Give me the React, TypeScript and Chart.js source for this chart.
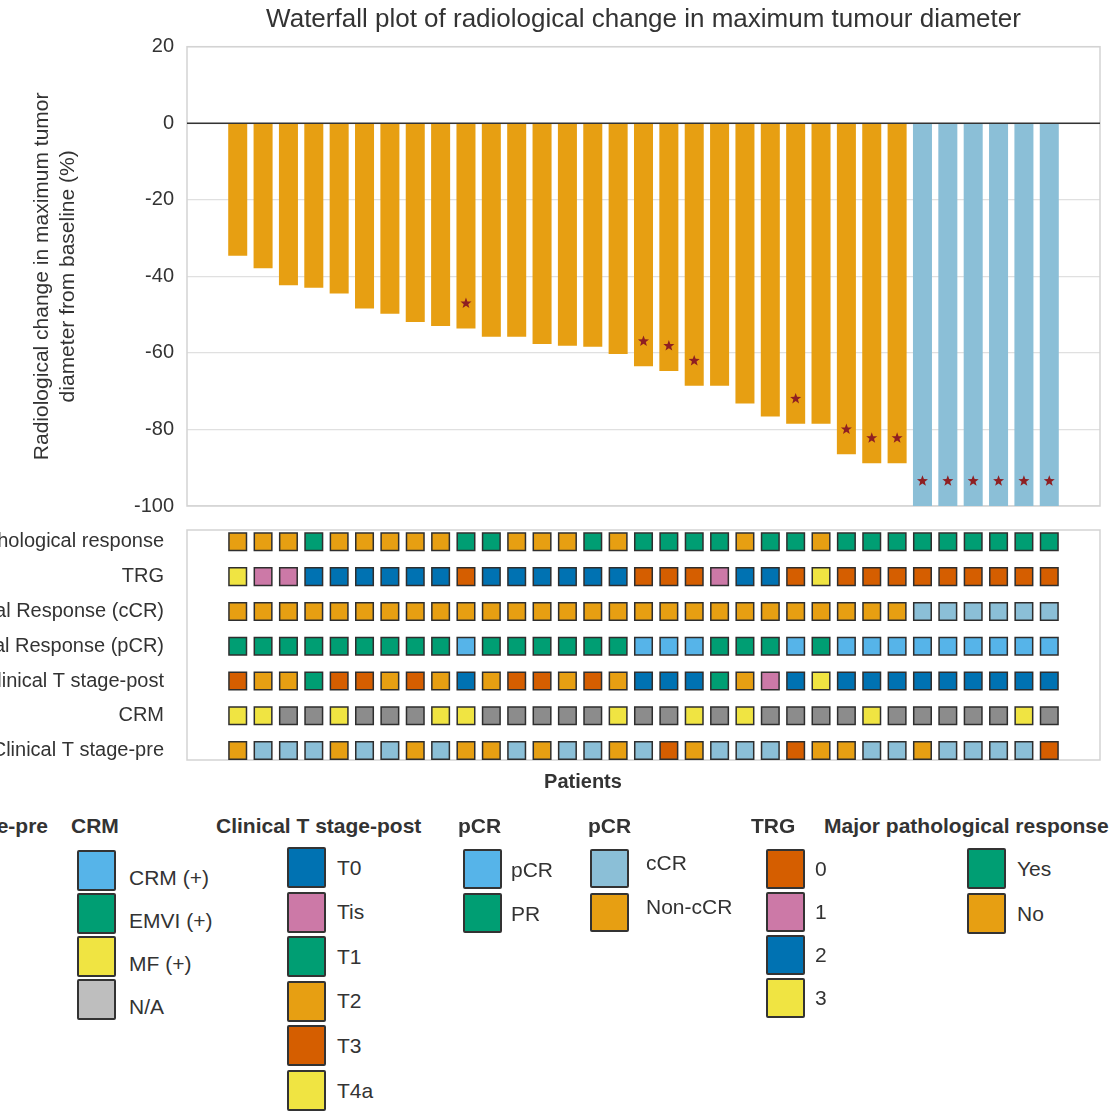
import React, { useEffect, useRef } from 'react';
import { Chart, registerables } from 'chart.js';

Chart.register(...registerables);

const FONT = '"Liberation Sans", Arial, Helvetica, sans-serif';
const INK = '#333333';

Chart.defaults.font.family = FONT;
Chart.defaults.color = INK;

// ---- data (one entry per patient, ordered as on the x axis) ----
const changeFromBaseline = [
  -34.6, -37.9, -42.3, -43.0, -44.5, -48.4, -49.8, -51.9, -53.0, -53.6,
  -55.8, -55.8, -57.7, -58.1, -58.4, -60.3, -63.5, -64.7, -68.6, -68.6,
  -73.2, -76.6, -78.5, -78.5, -86.5, -88.8, -88.8, -100, -100, -100,
  -100, -100, -100,
];

const majorResponse = [
  'No', 'No', 'No', 'Yes', 'No', 'No', 'No', 'No', 'No', 'Yes',
  'Yes', 'No', 'No', 'No', 'Yes', 'No', 'Yes', 'Yes', 'Yes', 'Yes',
  'No', 'Yes', 'Yes', 'No', 'Yes', 'Yes', 'Yes', 'Yes', 'Yes', 'Yes',
  'Yes', 'Yes', 'Yes',
];

const trg = [
  '3', '1', '1', '2', '2', '2', '2', '2', '2', '0',
  '2', '2', '2', '2', '2', '2', '0', '0', '0', '1',
  '2', '2', '0', '3', '0', '0', '0', '0', '0', '0',
  '0', '0', '0',
];

const ccr = [
  'Non-cCR', 'Non-cCR', 'Non-cCR', 'Non-cCR', 'Non-cCR', 'Non-cCR', 'Non-cCR', 'Non-cCR', 'Non-cCR', 'Non-cCR',
  'Non-cCR', 'Non-cCR', 'Non-cCR', 'Non-cCR', 'Non-cCR', 'Non-cCR', 'Non-cCR', 'Non-cCR', 'Non-cCR', 'Non-cCR',
  'Non-cCR', 'Non-cCR', 'Non-cCR', 'Non-cCR', 'Non-cCR', 'Non-cCR', 'Non-cCR', 'cCR', 'cCR', 'cCR',
  'cCR', 'cCR', 'cCR',
];

const pcr = [
  'PR', 'PR', 'PR', 'PR', 'PR', 'PR', 'PR', 'PR', 'PR', 'pCR',
  'PR', 'PR', 'PR', 'PR', 'PR', 'PR', 'pCR', 'pCR', 'pCR', 'PR',
  'PR', 'PR', 'pCR', 'PR', 'pCR', 'pCR', 'pCR', 'pCR', 'pCR', 'pCR',
  'pCR', 'pCR', 'pCR',
];

const tStagePost = [
  'T3', 'T2', 'T2', 'T1', 'T3', 'T3', 'T2', 'T3', 'T2', 'T0',
  'T2', 'T3', 'T3', 'T2', 'T3', 'T2', 'T0', 'T0', 'T0', 'T1',
  'T2', 'Tis', 'T0', 'T4a', 'T0', 'T0', 'T0', 'T0', 'T0', 'T0',
  'T0', 'T0', 'T0',
];

const crm = [
  'MF (+)', 'MF (+)', 'N/A', 'N/A', 'MF (+)', 'N/A', 'N/A', 'N/A', 'MF (+)', 'MF (+)',
  'N/A', 'N/A', 'N/A', 'N/A', 'N/A', 'MF (+)', 'N/A', 'N/A', 'MF (+)', 'N/A',
  'MF (+)', 'N/A', 'N/A', 'N/A', 'N/A', 'MF (+)', 'N/A', 'N/A', 'N/A', 'N/A',
  'N/A', 'MF (+)', 'N/A',
];

const tStagePre = [
  'T2', 'T3', 'T3', 'T3', 'T2', 'T3', 'T3', 'T2', 'T3', 'T2',
  'T2', 'T3', 'T2', 'T3', 'T3', 'T2', 'T3', 'T4', 'T2', 'T3',
  'T3', 'T3', 'T4', 'T2', 'T2', 'T3', 'T3', 'T2', 'T3', 'T3',
  'T3', 'T3', 'T4',
];

const yTicks = { min: -100, max: 20, step: 20 };

// ---- colours ----
const ORANGE = '#E79F12';
const GREEN = '#009E73';
const BLUE = '#0072B2';
const VERMILION = '#D55E00';
const PINK = '#CC79A7';
const YELLOW = '#F0E442';
const SKY = '#56B4E9';
const PALE_BLUE = '#8BBFD7';

const majorColours: Record<string, string> = { Yes: GREEN, No: ORANGE };
const trgColours: Record<string, string> = { '0': VERMILION, '1': PINK, '2': BLUE, '3': YELLOW };
const ccrColours: Record<string, string> = { cCR: PALE_BLUE, 'Non-cCR': ORANGE };
const pcrColours: Record<string, string> = { pCR: SKY, PR: GREEN };
const tPostColours: Record<string, string> = { T0: BLUE, Tis: PINK, T1: GREEN, T2: ORANGE, T3: VERMILION, T4a: YELLOW };
const crmLegendColours: Record<string, string> = { 'CRM (+)': SKY, 'EMVI (+)': GREEN, 'MF (+)': YELLOW, 'N/A': '#BEBEBE' };
const crmCellColours: Record<string, string> = { ...crmLegendColours, 'N/A': '#8C8C8C' };
const tPreColours: Record<string, string> = { T2: ORANGE, T3: PALE_BLUE, T4: VERMILION };

const heatRows = [
  { label: 'Major pathological response', values: majorResponse, colours: majorColours },
  { label: 'TRG', values: trg, colours: trgColours },
  { label: 'Complete Clinical Response (cCR)', values: ccr, colours: ccrColours },
  { label: 'Complete Pathological Response (pCR)', values: pcr, colours: pcrColours },
  { label: 'Clinical T stage-post', values: tStagePost, colours: tPostColours },
  { label: 'CRM', values: crm, colours: crmCellColours },
  { label: 'Clinical T stage-pre', values: tStagePre, colours: tPreColours },
];

// ---- legend layout ----
const legendGroups = [
  { title: 'Clinical T stage-pre', titleRight: 48, colours: {} as Record<string, string> },
  { title: 'CRM', titleLeft: 71, swatchLeft: 77, top: 850, step: 43, h: 41, labelLeft: 129, shift: 7, colours: crmLegendColours },
  { title: 'Clinical T stage-post', titleLeft: 216, swatchLeft: 287, top: 847, step: 44.6, h: 41, labelLeft: 337, shift: 0, colours: tPostColours },
  { title: 'pCR', titleLeft: 458, swatchLeft: 463, top: 849, step: 44, h: 40, labelLeft: 511, shift: 1, colours: pcrColours },
  { title: 'pCR', titleLeft: 588, swatchLeft: 590, top: 849, step: 44, h: 39, labelLeft: 646, shift: -6, colours: ccrColours },
  { title: 'TRG', titleLeft: 751, swatchLeft: 766, top: 849, step: 43, h: 40, labelLeft: 815, shift: 0, colours: trgColours },
  { title: 'Major pathological response', titleLeft: 824, swatchLeft: 967, top: 848, step: 45, h: 41, labelLeft: 1017, shift: 0, colours: majorColours },
];

const X_MIN = -2;
const X_MAX = 34;
const AXIS_WIDTH = 187;

// light box round the plot area, plus the dark zero line on top of the bars
const framePlugin = {
  id: 'frame',
  beforeDatasetsDraw(chart: any) {
    const { ctx, chartArea: a } = chart;
    ctx.save();
    ctx.strokeStyle = '#D3D3D3';
    ctx.lineWidth = 1.5;
    ctx.strokeRect(a.left, a.top, a.right - a.left, a.bottom - a.top);
    ctx.restore();
  },
  afterDatasetsDraw(chart: any, _args: any, opts: any) {
    if (!opts || !opts.zeroLine) return;
    const { ctx, chartArea: a } = chart;
    const y = chart.scales.y.getPixelForValue(0);
    ctx.save();
    ctx.strokeStyle = INK;
    ctx.lineWidth = 1.5;
    ctx.beginPath();
    ctx.moveTo(a.left, y);
    ctx.lineTo(a.right, y);
    ctx.stroke();
    ctx.restore();
  },
};

function drawStar(ctx: CanvasRenderingContext2D, cx: number, cy: number, outer: number, inner: number) {
  ctx.beginPath();
  for (let k = 0; k < 10; k++) {
    const r = k % 2 === 0 ? outer : inner;
    const ang = -Math.PI / 2 + (k * Math.PI) / 5;
    const px = cx + r * Math.cos(ang);
    const py = cy + r * Math.sin(ang);
    if (k === 0) ctx.moveTo(px, py);
    else ctx.lineTo(px, py);
  }
  ctx.closePath();
  ctx.fill();
}

// star near the end of every bar whose patient reached pCR
const starPlugin = {
  id: 'pcrStars',
  afterDatasetsDraw(chart: any) {
    const meta = chart.getDatasetMeta(0);
    const ctx = chart.ctx;
    ctx.save();
    ctx.fillStyle = '#8E1F22';
    pcr.forEach((v, i) => {
      if (v !== 'pCR') return;
      const bar = meta.data[i];
      drawStar(ctx, bar.x, bar.y - 25, 5.8, 2.4);
    });
    ctx.restore();
  },
};

const WaterfallChart: React.FC = () => {
  const canvasRef = useRef<HTMLCanvasElement | null>(null);

  useEffect(() => {
    if (!canvasRef.current) return;

    const chart = new Chart(canvasRef.current, {
      type: 'bar',
      data: {
        datasets: [
          {
            data: changeFromBaseline.map((v, i) => ({ x: i, y: v })),
            backgroundColor: ccr.map((c) => ccrColours[c]),
            borderWidth: 0,
            barPercentage: 0.75,
            categoryPercentage: 1,
          },
        ],
      },
      options: {
        responsive: false,
        animation: false,
        events: [],
        layout: { padding: { left: 0, right: 19, top: 0, bottom: 30 } },
        plugins: {
          legend: { display: false },
          tooltip: { enabled: false },
          title: {
            display: true,
            fullSize: false,
            text: 'Waterfall plot of radiological change in maximum tumour diameter',
            color: INK,
            font: { size: 26, weight: 'normal' },
            padding: { top: 4, bottom: 11.5 },
          },
          frame: { zeroLine: true },
        } as any,
        scales: {
          x: { type: 'linear', min: X_MIN, max: X_MAX, offset: false, display: false, grid: { offset: false } },
          y: {
            min: yTicks.min,
            max: yTicks.max,
            ticks: { stepSize: yTicks.step, color: INK, font: { size: 20 }, padding: 13 },
            grid: { color: '#E0E0E0', lineWidth: 1.3, drawTicks: false },
            border: { display: false },
            title: {
              display: true,
              text: ['Radiological change in maximum tumor', 'diameter from baseline (%)'],
              color: INK,
              font: { size: 21, lineHeight: 1.24 },
              padding: { top: 29, bottom: 0 },
            },
            afterFit: (scale: any) => {
              scale.width = AXIS_WIDTH;
            },
          },
        },
      } as any,
      plugins: [framePlugin, starPlugin],
    });

    return () => {
      chart.destroy();
    };
  }, []);

  return (
    <canvas
      ref={canvasRef}
      width={1119}
      height={536}
      style={{ position: 'absolute', left: 0, top: 0 }}
    />
  );
};

const AnnotationGrid: React.FC = () => {
  const canvasRef = useRef<HTMLCanvasElement | null>(null);

  useEffect(() => {
    if (!canvasRef.current) return;

    const chart = new Chart(canvasRef.current, {
      type: 'scatter',
      data: {
        datasets: heatRows.map((row, r) => ({
          data: row.values.map((_, i) => ({ x: i, y: r })),
          pointStyle: 'rect',
          pointRadius: 12.4,
          pointHoverRadius: 12.4,
          pointBackgroundColor: row.values.map((v) => row.colours[v]),
          pointBorderColor: '#2E2E2E',
          pointBorderWidth: 1.5,
        })),
      },
      options: {
        responsive: false,
        animation: false,
        events: [],
        layout: { padding: { left: 0, right: 19, top: 30, bottom: 30 } },
        plugins: {
          legend: { display: false },
          tooltip: { enabled: false },
          frame: { zeroLine: false },
        } as any,
        scales: {
          x: { type: 'linear', min: X_MIN, max: X_MAX, display: false },
          y: {
            type: 'linear',
            min: -0.34,
            max: 6.27,
            reverse: true,
            afterBuildTicks: (scale: any) => {
              scale.ticks = heatRows.map((_, i) => ({ value: i }));
            },
            ticks: {
              autoSkip: false,
              color: INK,
              font: { size: 20 },
              padding: 15,
              callback: (value: any) => (heatRows[value] ? heatRows[value].label : ''),
            },
            grid: { display: false },
            border: { display: false },
            afterFit: (scale: any) => {
              scale.width = AXIS_WIDTH;
            },
          },
        },
      } as any,
      plugins: [framePlugin],
    });

    return () => {
      chart.destroy();
    };
  }, []);

  return (
    <canvas
      ref={canvasRef}
      width={1119}
      height={290}
      style={{ position: 'absolute', left: 0, top: 500 }}
    />
  );
};

const Legend: React.FC = () => (
  <>
    {legendGroups.map((g, gi) => {
      const titleStyle: React.CSSProperties = {
        position: 'absolute',
        top: 814,
        fontWeight: 'bold',
        fontSize: 21,
        lineHeight: '24px',
        whiteSpace: 'nowrap',
      };
      if (g.titleRight !== undefined) titleStyle.right = 1119 - g.titleRight;
      else titleStyle.left = g.titleLeft;
      return (
        <React.Fragment key={gi}>
          <div style={titleStyle}>{g.title}</div>
          {Object.entries(g.colours).map(([label, colour], k) => {
            const top = (g.top as number) + k * (g.step as number);
            const mid = top + (g.h as number) / 2;
            return (
              <React.Fragment key={label}>
                <div
                  style={{
                    position: 'absolute',
                    left: g.swatchLeft,
                    top,
                    width: 39,
                    height: g.h,
                    boxSizing: 'border-box',
                    background: colour,
                    border: '2px solid #333',
                    borderRadius: 2,
                  }}
                />
                <div
                  style={{
                    position: 'absolute',
                    left: g.labelLeft,
                    top: mid + (g.shift as number) - 12,
                    fontSize: 21,
                    lineHeight: '24px',
                    whiteSpace: 'nowrap',
                  }}
                >
                  {label}
                </div>
              </React.Fragment>
            );
          })}
        </React.Fragment>
      );
    })}
  </>
);

const App: React.FC = () => {
  return (
    <div
      style={{
        position: 'absolute',
        left: 0,
        top: 0,
        width: 1119,
        height: 1118,
        overflow: 'hidden',
        background: '#fff',
        fontFamily: FONT,
        color: INK,
      }}
    >
      <WaterfallChart />
      <AnnotationGrid />
      <div
        style={{
          position: 'absolute',
          left: 583,
          top: 769,
          transform: 'translateX(-50%)',
          fontWeight: 'bold',
          fontSize: 20,
          lineHeight: '24px',
        }}
      >
        Patients
      </div>
      <Legend />
    </div>
  );
};

export default App;
